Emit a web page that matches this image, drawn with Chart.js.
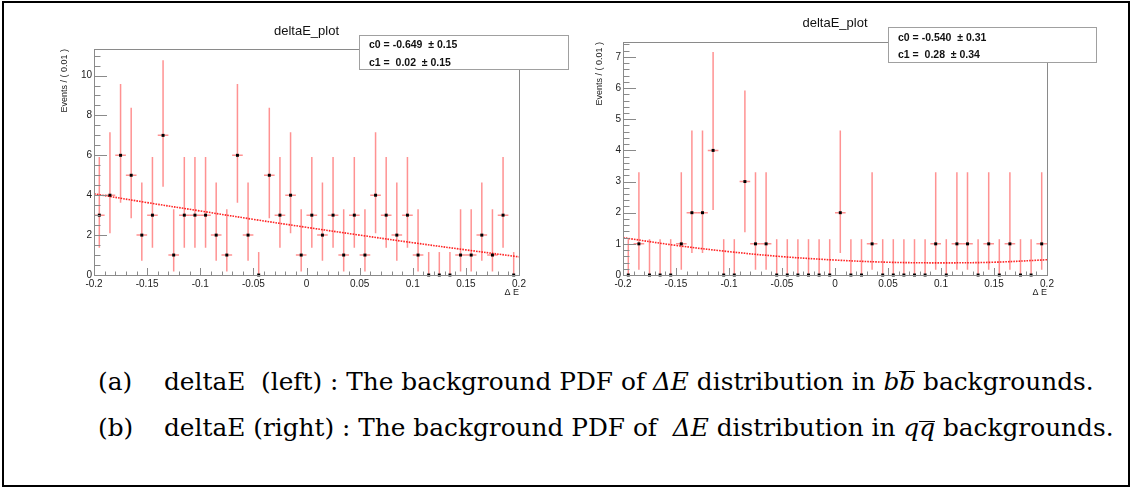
<!DOCTYPE html>
<html>
<head>
<meta charset="utf-8">
<script src="https://cdn.jsdelivr.net/npm/chart.js@4.4.1/dist/chart.umd.min.js"></script>
<style>
  html, body { margin: 0; padding: 0; background: #fff; }
  #page { position: relative; width: 1131px; height: 488px; overflow: hidden; }
  canvas { position: absolute; top: 0; }
  .stat { position: absolute; background: #fff; border: 1px solid #a0a0a0; box-sizing: border-box;
          font: bold 10.5px "Liberation Sans", Arial, sans-serif; color: #111; white-space: pre; }
  .stat div { position: absolute; left: 9px; line-height: 12px; }
  .cap { position: absolute; font: 24.8px "DejaVu Serif", serif; color: #000; white-space: pre; line-height: 30px; }
  .ob { display: inline-block; border-top: 1.5px solid #000; line-height: 0.8em; }
  .oq { display: inline-block; border-top: 1.5px solid #000; line-height: 0.5em; }
  #border { position: absolute; left: 2px; top: 1px; width: 1124px; height: 482px; border: 2px solid #000; }
</style>
</head>
<body>
<div id="page">
  <div id="border"></div>
  <canvas id="bbChart" width="565" height="310" style="left:0px"></canvas>
  <canvas id="qqChart" width="566" height="310" style="left:565px"></canvas>

  <div class="stat" style="left:359px;top:35px;width:210px;height:35px;">
    <div style="top:2px">c0 = -0.649  ± 0.15</div>
    <div style="top:20px">c1 =  0.02  ± 0.15</div>
  </div>
  <div class="stat" style="left:888px;top:27px;width:209px;height:36px;">
    <div style="top:3px">c0 = -0.540  ± 0.31</div>
    <div style="top:20px">c1 =  0.28  ± 0.34</div>
  </div>

  <div class="cap" style="left:98px;top:367px">(a)</div>
  <div class="cap" style="left:164px;top:367px">deltaE  (left) : The background PDF of <i>ΔE</i> distribution in <i>b</i><i class="ob">b</i> backgrounds.</div>
  <div class="cap" style="left:98px;top:413px">(b)</div>
  <div class="cap" style="left:164px;top:413px">deltaE (right) : The background PDF of  <i>ΔE</i> distribution in <i>q</i><i class="oq">q</i> backgrounds.</div>
</div>

<script>
'use strict';

// bin centres of the 40 bins (width 0.01) between -0.2 and 0.2
const binCenters = [
  -0.195, -0.185, -0.175, -0.165, -0.155, -0.145, -0.135, -0.125, -0.115, -0.105,
  -0.095, -0.085, -0.075, -0.065, -0.055, -0.045, -0.035, -0.025, -0.015, -0.005,
   0.005,  0.015,  0.025,  0.035,  0.045,  0.055,  0.065,  0.075,  0.085,  0.095,
   0.105,  0.115,  0.125,  0.135,  0.145,  0.155,  0.165,  0.175,  0.185,  0.195,
];
const binHalfWidth = 0.005;

// events per bin, b-bbar (left) and q-qbar (right)
const bbCounts = [
  3, 4, 6, 5, 2, 3, 7, 1, 3, 3,
  3, 2, 1, 6, 2, 0, 5, 3, 4, 1,
  3, 2, 3, 1, 3, 1, 4, 3, 2, 3,
  1, 0, 0, 0, 1, 1, 2, 1, 3, 0,
];
const qqCounts = [
  0, 1, 0, 0, 0, 1, 2, 2, 4, 0,
  0, 3, 1, 1, 0, 0, 0, 0, 0, 0,
  2, 0, 0, 1, 0, 0, 0, 0, 0, 1,
  0, 1, 1, 0, 1, 0, 1, 0, 0, 1,
];

// asymmetric Poisson error bars, indexed by count
const poissonLow  = [0, 0.83, 1.29, 1.63, 1.91, 2.16, 2.38, 2.58];
const poissonHigh = [1.15, 2.30, 2.64, 2.92, 3.16, 3.38, 3.58, 3.77];

// fitted PDF curves read at these x positions
const curveX  = [-0.2, -0.15, -0.1, -0.05, 0, 0.05, 0.1, 0.15, 0.2];
const bbCurve = [4.07, 3.63, 3.21, 2.79, 2.39, 2.00, 1.62, 1.26, 0.91];
const qqCurve = [1.20, 0.95, 0.75, 0.59, 0.48, 0.41, 0.39, 0.41, 0.49];

// tick labels
const xTicks   = [-0.2, -0.15, -0.1, -0.05, 0, 0.05, 0.1, 0.15, 0.2];
const bbYTicks = [0, 2, 4, 6, 8, 10];
const qqYTicks = [0, 1, 2, 3, 4, 5, 6, 7];

const FONT = '"Liberation Sans", Arial, Helvetica, sans-serif';
const AXIS_GREY = '#8a8a8a';
const ERR_COLOR = 'rgba(255, 110, 110, 0.75)';

// ROOT-like frame, inside tick marks and error bars
const rootStyle = {
  id: 'rootStyle',
  beforeDatasetsDraw(chart, args, opts) {
    const { ctx, scales: { x, y } } = chart;
    const pts = chart.data.datasets[0].data;
    ctx.save();
    ctx.strokeStyle = ERR_COLOR;
    ctx.lineWidth = 1.5;
    pts.forEach(p => {
      const px = x.getPixelForValue(p.x);
      ctx.beginPath();
      ctx.moveTo(px, y.getPixelForValue(p.y - poissonLow[p.y]));
      ctx.lineTo(px, y.getPixelForValue(p.y + poissonHigh[p.y]));
      if (p.y > 0) {
        const py = y.getPixelForValue(p.y);
        ctx.moveTo(x.getPixelForValue(p.x - binHalfWidth), py);
        ctx.lineTo(x.getPixelForValue(p.x + binHalfWidth), py);
      }
      ctx.stroke();
    });
    ctx.restore();
  },
  afterDraw(chart, args, opts) {
    const { ctx, chartArea: a, scales: { x, y } } = chart;
    ctx.save();
    ctx.strokeStyle = AXIS_GREY;
    ctx.lineWidth = 1;
    ctx.strokeRect(Math.round(a.left) + 0.5, Math.round(a.top) + 0.5,
                   Math.round(a.right - a.left), Math.round(a.bottom - a.top));
    ctx.beginPath();
    for (let k = -20; k <= 20; k++) {
      const px = Math.round(x.getPixelForValue(k / 100)) + 0.5;
      const len = k % 5 === 0 ? 7 : 3.5;
      ctx.moveTo(px, a.bottom);
      ctx.lineTo(px, a.bottom - len);
    }
    for (let v = 0; v <= y.max + 1e-9; v += opts.yMinor) {
      const py = Math.round(y.getPixelForValue(v)) + 0.5;
      const major = Math.abs(v / opts.yMajor - Math.round(v / opts.yMajor)) < 1e-6;
      ctx.moveTo(a.left, py);
      ctx.lineTo(a.left + (major ? 13 : 6.5), py);
    }
    ctx.stroke();
    ctx.restore();
  },
};

function makeChart(canvasId, counts, curve, yTicks, g) {
  return new Chart(document.getElementById(canvasId), {
    type: 'line',
    data: {
      datasets: [
        {
          data: binCenters.map((x, i) => ({ x, y: counts[i] })),
          showLine: false,
          pointStyle: 'rect',
          pointRadius: 2.1,
          pointBorderWidth: 0,
          pointBackgroundColor: '#000',
          clip: false,
          order: 0,
        },
        {
          data: curveX.map((x, i) => ({ x, y: curve[i] })),
          borderColor: 'rgba(255, 0, 0, 0.85)',
          borderWidth: 1.6,
          borderDash: [1.6, 1.1],
          pointRadius: 0,
          tension: 0.35,
          order: 1,
        },
      ],
    },
    options: {
      responsive: false,
      animation: false,
      events: [],
      layout: { padding: { left: 0, top: 0, right: g.padRight, bottom: 0 } },
      plugins: {
        legend: { display: false },
        tooltip: { enabled: false },
        title: {
          display: true,
          fullSize: false,
          text: 'deltaE_plot',
          color: '#111',
          font: { family: FONT, size: 13, weight: 'normal' },
          padding: { top: g.titleTop, bottom: g.titleBottom },
        },
        rootStyle: { yMinor: g.yMinor, yMajor: g.yMajor },
      },
      scales: {
        x: {
          type: 'linear',
          min: -0.2,
          max: 0.2,
          afterBuildTicks: s => { s.ticks = xTicks.map(v => ({ value: v })); },
          afterFit: s => { s.height = 35; },
          grid: { display: false, drawTicks: false },
          border: { display: false },
          ticks: {
            color: '#222',
            padding: 3,
            maxRotation: 0,
            autoSkip: false,
            font: { family: FONT, size: 10 },
            callback: v => (v === 0 ? '0' : String(+v.toFixed(2))),
          },
          title: {
            display: true,
            text: 'Δ E',
            align: 'end',
            color: '#222',
            font: { family: FONT, size: 9 },
            padding: { top: 0, bottom: 11.6 },
          },
        },
        y: {
          min: 0,
          max: g.yMax,
          afterBuildTicks: s => { s.ticks = yTicks.map(v => ({ value: v })); },
          afterFit: s => { s.width = g.yWidth; },
          grid: { display: false, drawTicks: false },
          border: { display: false },
          ticks: {
            color: '#222',
            padding: 2,
            font: { family: FONT, size: 10 },
          },
          title: {
            display: true,
            text: 'Events / ( 0.01 )',
            align: 'end',
            color: '#222',
            font: { family: FONT, size: 9 },
            padding: { top: g.yTitlePad, bottom: 0 },
          },
        },
      },
    },
    plugins: [rootStyle],
  });
}

makeChart('bbChart', bbCounts, bbCurve, bbYTicks, {
  padRight: 46, yWidth: 94, yMax: 11.33, yMinor: 0.5, yMajor: 2,
  titleTop: 23.2, titleBottom: 10.2, yTitlePad: 59.6,
});
makeChart('qqChart', qqCounts, qqCurve, qqYTicks, {
  padRight: 84, yWidth: 58, yMax: 7.48, yMinor: 0.2, yMajor: 1,
  titleTop: 15.5, titleBottom: 10.9, yTitlePad: 29.6,
});
</script>
</body>
</html>
